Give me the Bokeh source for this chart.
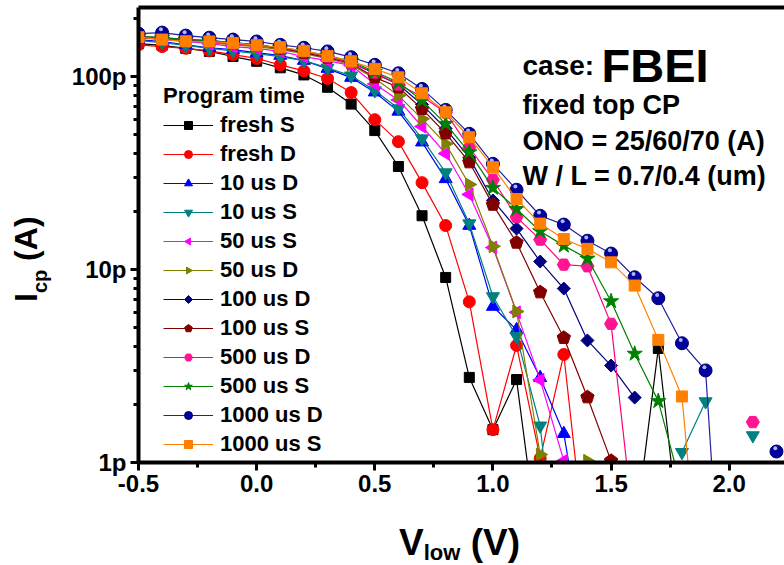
import numpy as np
from bokeh.plotting import figure
from bokeh.layouts import row, column
from bokeh.models import (Range1d, FixedTicker, LinearAxis, Label, Legend, Div,
                          LegendItem, ColumnDataSource, NumeralTickFormatter)
from bokeh.embed import file_html
from bokeh.resources import INLINE

nan = float("nan")

# V_low (V)
v_low = [-0.5, -0.4, -0.3, -0.2, -0.1, 0.0, 0.1, 0.2, 0.3, 0.4, 0.5, 0.6, 0.7, 0.8,
         0.9, 1.0, 1.1, 1.2, 1.3, 1.4, 1.5, 1.6, 1.7, 1.8, 1.9, 2.0, 2.1, 2.2]

# I_cp in pA (nan = not plotted)
fresh_S = [148, 145, 140, 135, 127, 120, 111, 102, 88, 72, 52.5, 34.2, 19.0, 9.1, 2.76,
           1.48, 2.69, 0.31, nan, nan, nan, 0.42, 3.9, 0.32, nan, nan, nan, nan]
fresh_D = [146, 143, 140, 136, 130, 124, 115, 107, 97.7, 82.6, 59.8, 46.0, 28.2, 16.9,
           6.8, 1.48, 4.04, 1.05, 3.63, 0.28, nan, nan, nan, nan, nan, nan, nan, nan]
us10_D = [155.5, 152, 146, 141, 138, 133, 128.5, 121, 110, 98.8, 83, 66, 45.7, 29.5,
          16.9, 6.43, 4.87, 2.75, 1.41, 0.27, nan, nan, nan, nan, nan, nan, nan, nan]
us10_S = [153.7, 150, 145, 140, 136, 131.5, 127, 121, 111, 101, 84.6, 68.3, 47.7, 31.8,
          17.3, 7.25, 4.5, 1.55, 0.12, nan, nan, nan, nan, 1.13, 2.07, nan, 1.38, nan]
us50_S = [159, 155.5, 152, 148, 143, 140, 135, 127, 121, 114, 91.6, 75.7, 55.1, 39.9,
          24.5, 13.0, 6.0, 2.68, 1.02, nan, nan, nan, nan, nan, nan, nan, nan, nan]
us50_D = [159, 157, 153.7, 150, 146, 143, 138, 131.5, 124, 115, 97.7, 79.7, 60.4, 44.8,
          27.6, 13.2, 6.06, 1.1, nan, 1.02, nan, nan, nan, nan, nan, nan, nan, nan]
us100_D = [161, 159, 155.5, 153.7, 150, 146, 141, 135, 127, 118, 103.7, 90.9, 71.6, 53.8,
           38.0, 22.8, 16.3, 11.0, 7.97, 4.29, 3.18, 2.17, nan, nan, nan, nan, nan, nan]
us100_S = [159, 157, 153.7, 152, 148, 145, 140, 133, 125.4, 117, 99.1, 88.0, 68.0, 50.8,
           36.0, 21.7, 13.8, 7.63, 4.43, 2.18, 1.02, nan, nan, nan, nan, nan, nan, nan]
us500_D = [161, 157, 155.5, 152, 148, 145, 141, 135, 127, 117, 105, 90.9, 78.8, 65.1,
           42.9, 29.2, 18.7, 14.3, 10.6, 10.4, 5.23, 0.42, nan, nan, nan, nan, 1.62, nan]
us500_S = [161, 159, 155.5, 153.7, 150, 146, 141, 136, 128.5, 120, 106, 93.4, 75.1, 56.9,
           40.5, 26.5, 20.6, 15.8, 13.3, 11.4, 6.85, 3.66, 2.08, 0.72, nan, nan, nan, nan]
us1000_D = [167, 169, 163, 159, 155.5, 152, 146, 141, 135, 126, 115, 104, 86.3, 67.2,
            50.5, 35.3, 25.9, 19.0, 17.1, 14.1, 12.1, 9.12, 7.10, 4.15, 3.0, 0.04, nan, 1.14]
us1000_S = [160, 155.5, 152.4, 152, 149.5, 145.3, 141.9, 136, 128, 120, 109.6, 99.1, 81.9,
            65.3, 48.5, 33.9, 23.2, 17.3, 14.4, 12.8, 10.9, 8.26, 4.32, 2.20, 0.10, nan, nan, nan]

labels = ["fresh S", "fresh D", "10 us D", "10 us S", "50 us S", "50 us D",
          "100 us D", "100 us S", "500 us D", "500 us S", "1000 us D", "1000 us S"]
series = [fresh_S, fresh_D, us10_D, us10_S, us50_S, us50_D,
          us100_D, us100_S, us500_D, us500_S, us1000_D, us1000_S]

y_ticks = [1, 10, 100]
y_tick_labels = ["1p", "10p", "100p"]
x_ticks = [-0.5, 0.0, 0.5, 1.0, 1.5, 2.0]

# style per series: (line colour, marker, fill colour, size, angle)
# "ngonN" = regular N-gon (radius in px, angle in rad)
styles = [
    ("#000000", "square", "#000000", 10, 0.0),
    ("#FF0000", "circle", "#FF0000", 12, 0.0),
    ("#0000FF", "triangle", "#0000FF", 13, 0.0),
    ("#008080", "inverted_triangle", "#008080", 13, 0.0),
    ("#FF00FF", "ngon3", "#FF00FF", 7.5, np.pi / 2),
    ("#808000", "ngon3", "#808000", 7.5, -np.pi / 2),
    ("#000080", "ngon4", "#000080", 6.5, 0.0),
    ("#800000", "ngon5", "#800000", 7, 0.0),
    ("#FF0080", "hex", "#FF1493", 13, 0.0),
    ("#008000", "star", "#008000", 16, 0.0),
    ("#2020A0", "sphere", "#00009C", 13, 0.0),
    ("#FF8000", "square", "#FF8000", 11, 0.0),
]

FONT = "Liberation Sans"

p = figure(width=724, height=510, y_axis_type="log", output_backend="svg",
           toolbar_location=None,
           x_range=Range1d(-0.5, 2.234), y_range=Range1d(1, 228),
           min_border_left=78, min_border_right=0, min_border_top=7,
           min_border_bottom=48)
p.xgrid.visible = False
p.ygrid.visible = False
p.outline_line_color = None
p.background_fill_color = "white"

items = []
for lab_txt, vals, (lc, mk, fc, sz, ang) in zip(labels, series, styles):
    src = ColumnDataSource(dict(x=v_low, y=vals))
    lr = p.line("x", "y", source=src, line_color=lc, line_width=1.2)
    if mk.startswith("ngon"):
        mr = p.ngon("x", "y", source=src, radius=sz, radius_units="screen",
                    n=int(mk[4:]), angle=ang, fill_color=fc, line_color=fc)
    elif mk == "sphere":
        mr = p.scatter("x", "y", source=src, marker="circle", size=sz,
                       fill_color=fc, line_color="#000070")
        # small specular highlight on each ball
        hx = [v - 0.005 for v in v_low]
        hy = [v * 1.04 for v in vals]
        p.scatter(hx, hy, marker="circle", size=4, fill_color="#C8C8FF",
                  line_color=None, fill_alpha=0.9)
    else:
        mr = p.scatter("x", "y", source=src, marker=mk, size=sz, angle=ang,
                       fill_color=fc, line_color=fc)
    items.append(LegendItem(label=lab_txt, renderers=[lr, mr]))

legend = Legend(items=items, location=(25, 5), title="Program time",
                title_text_font=FONT, title_text_font_size="22px",
                title_text_font_style="bold", title_text_color="black",
                title_standoff=3,
                label_text_font=FONT, label_text_font_size="22px",
                label_text_font_style="bold", label_text_color="black",
                label_standoff=7,
                glyph_width=50, glyph_height=20, label_height=20, spacing=3,
                padding=0, margin=0, background_fill_alpha=0,
                border_line_alpha=0)
p.add_layout(legend)

# axes
for ax in (p.xaxis[0], p.yaxis[0]):
    ax.axis_line_width = 4
    ax.major_tick_line_width = 3
    ax.minor_tick_line_width = 3
    ax.major_tick_out = 8
    ax.major_tick_in = 0
    ax.minor_tick_out = 5
    ax.minor_tick_in = 0
    ax.major_label_text_font = FONT
    ax.major_label_text_font_size = "24px"
    ax.major_label_text_font_style = "bold"
    ax.major_label_text_color = "black"
    ax.major_label_standoff = 4

p.xaxis[0].ticker = FixedTicker(ticks=x_ticks, minor_ticks=[-0.25, 0.25, 0.75, 1.25, 1.75])
p.xaxis[0].formatter = NumeralTickFormatter(format="0.0")
minor_y = [m * d for d in (1, 10, 100) for m in range(2, 10)]
p.yaxis[0].ticker = FixedTicker(ticks=y_ticks, minor_ticks=minor_y)
p.yaxis[0].major_label_overrides = {t: s for t, s in zip(y_ticks, y_tick_labels)}

top = LinearAxis(ticker=FixedTicker(ticks=[]), axis_line_width=4,
                 major_tick_out=0, major_tick_in=0, minor_tick_out=0, minor_tick_in=0,
                 major_label_text_font_size="0px", major_label_standoff=0)
p.add_layout(top, "above")


def lab(text, x, y, size):
    p.add_layout(Label(x=x, y=y, x_units="screen", y_units="screen", text=text,
                       text_font=FONT, text_font_size=size, text_font_style="bold",
                       text_color="black", text_align="left",
                       text_baseline="alphabetic"))


# annotations (frame-relative screen units)
lab("case:", 384, 397, "28px")
lab("FBEI", 463, 397, "47px")
lab("fixed top CP", 384, 358, "27px")
lab("ONO = 25/60/70 (A)", 384, 322, "27px")
lab("W / L = 0.7/0.4 (um)", 384, 287, "27px")

# axis titles as HTML text
FSTY = "font-family:'Liberation Sans',Arial,sans-serif; font-weight:bold; color:black; line-height:1; white-space:nowrap;"
y_title = ('<div style="position:relative; width:60px; height:510px;">'
           '<div style="position:absolute; left:10px; top:302px; transform:rotate(-90deg); '
           'transform-origin:0 0; font-size:32px; ' + FSTY + '">I'
           '<span style="font-size:20px; position:relative; top:10px;">cp</span> (A)</div></div>')
x_title = ('<div style="position:relative; width:784px; height:55px;">'
           '<div style="position:absolute; left:399px; top:14px; font-size:37px; ' + FSTY + '">V'
           '<span style="font-size:22px; position:relative; top:5px;">low</span> (V)</div></div>')

ydiv = Div(text=y_title, width=60, height=510, margin=(0, 0, 0, 0))
xdiv = Div(text=x_title, width=784, height=55, margin=(0, 0, 0, 0))

layout = column(row(ydiv, p, spacing=0), xdiv, spacing=0)

open("out.html", "w").write(file_html(layout, INLINE))
